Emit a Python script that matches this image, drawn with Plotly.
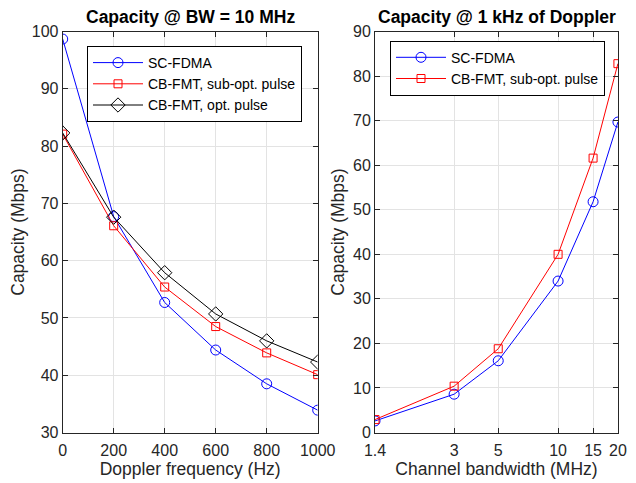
import plotly.graph_objects as go
from plotly.subplots import make_subplots

doppler = [0, 200, 400, 600, 800, 1000]
sc_fdma_dop = [98.7, 67.7, 52.7, 44.4, 38.5, 33.9]
fmt_sub_dop = [82.1, 66.1, 55.4, 48.5, 43.9, 40.1]
fmt_opt_dop = [82.3, 67.6, 57.9, 50.7, 46.0, 42.3]

# bandwidths are placed by number of resource blocks on a log axis
resource_blocks = [6, 15, 25, 50, 75, 100]
bw_labels = ["1.4", "3", "5", "10", "15", "20"]
sc_fdma_bw = [2.6, 8.6, 16.1, 34.0, 51.8, 69.7]
fmt_sub_bw = [2.9, 10.4, 18.8, 40.0, 61.6, 82.8]

font = "Liberation Sans, Arial, sans-serif"
ink = "#262626"

# the page body adds an 8 px margin, so the figure is 8 px smaller each way
W, H = 628, 475

fig = make_subplots(rows=1, cols=2)

def series(x, y, name, color, symbol, size, legend, col):
    fig.add_trace(go.Scatter(
        x=x, y=y, name=name, mode="lines+markers",
        line=dict(color=color, width=1),
        marker=dict(symbol=symbol, size=size, color=color,
                    line=dict(color=color, width=1)),
        legend=legend), row=1, col=col)

series(doppler, sc_fdma_dop, "SC-FDMA", "#0000ff", "circle-open", 10, "legend", 1)
series(doppler, fmt_sub_dop, "CB-FMT, sub-opt. pulse", "#ff0000", "square-open", 8, "legend", 1)
series(doppler, fmt_opt_dop, "CB-FMT, opt. pulse", "#000000", "diamond-open", 11, "legend", 1)
series(resource_blocks, sc_fdma_bw, "SC-FDMA", "#0000ff", "circle-open", 10, "legend2", 2)
series(resource_blocks, fmt_sub_bw, "CB-FMT, sub-opt. pulse", "#ff0000", "square-open", 8, "legend2", 2)

axis_style = dict(showline=True, linecolor=ink, linewidth=1, mirror="ticks",
                  ticks="inside", ticklen=5, tickcolor=ink, automargin=False,
                  showgrid=True, gridcolor="#e3e3e3", gridwidth=1,
                  zeroline=False, tickfont=dict(family=font, size=16, color=ink),
                  title_font=dict(family=font, size=17.5, color=ink))

fig.update_xaxes(axis_style, ticklabelstandoff=3, ticklabeloverflow="allow")
fig.update_yaxes(axis_style)

ydom = [1 - 424.5 / H, 1 - 23.6 / H]
fig.update_xaxes(domain=[54.7 / W, 309.7 / W], range=[0, 1000], tickvals=doppler,
                 title_text="Doppler frequency (Hz)", title_standoff=3, row=1, col=1)
fig.update_yaxes(domain=ydom, range=[30, 100], dtick=10,
                 title_text="Capacity (Mbps)", title_standoff=8, row=1, col=1)
fig.update_xaxes(domain=[367 / W, 610 / W], type="log", range=[0.778, 2.0004],
                 tickvals=resource_blocks, ticktext=bw_labels,
                 title_text="Channel bandwidth (MHz)", title_standoff=3, row=1, col=2)
fig.update_yaxes(domain=ydom, range=[0, 90], dtick=10,
                 title_text="Capacity (Mbps)", title_standoff=3, row=1, col=2)

legend_style = dict(bgcolor="white", bordercolor="#000000", borderwidth=1,
                    font=dict(family=font, size=14, color="#000000"),
                    xanchor="left", yanchor="top", itemwidth=50,
                    tracegroupgap=0)
fig.update_layout(
    width=W, height=H,
    margin=dict(l=0, r=0, t=0, b=0),
    paper_bgcolor="white", plot_bgcolor="white",
    legend=dict(legend_style, x=79 / W, y=1 - 38 / H),
    legend2=dict(legend_style, x=382 / W, y=1 - 32.7 / H),
    annotations=[
        dict(text="<b>Capacity @ BW = 10 MHz</b>", x=0.5, y=1 - 9 / H,
             xref="x domain", yref="paper", yanchor="middle", showarrow=False,
             font=dict(family=font, size=17.5, color="#000000")),
        dict(text="<b>Capacity @ 1 kHz of Doppler</b>", x=0.5, y=1 - 9 / H,
             xref="x2 domain", yref="paper", yanchor="middle", showarrow=False,
             font=dict(family=font, size=17.5, color="#000000")),
    ],
)

fig.write_html("out.html")
